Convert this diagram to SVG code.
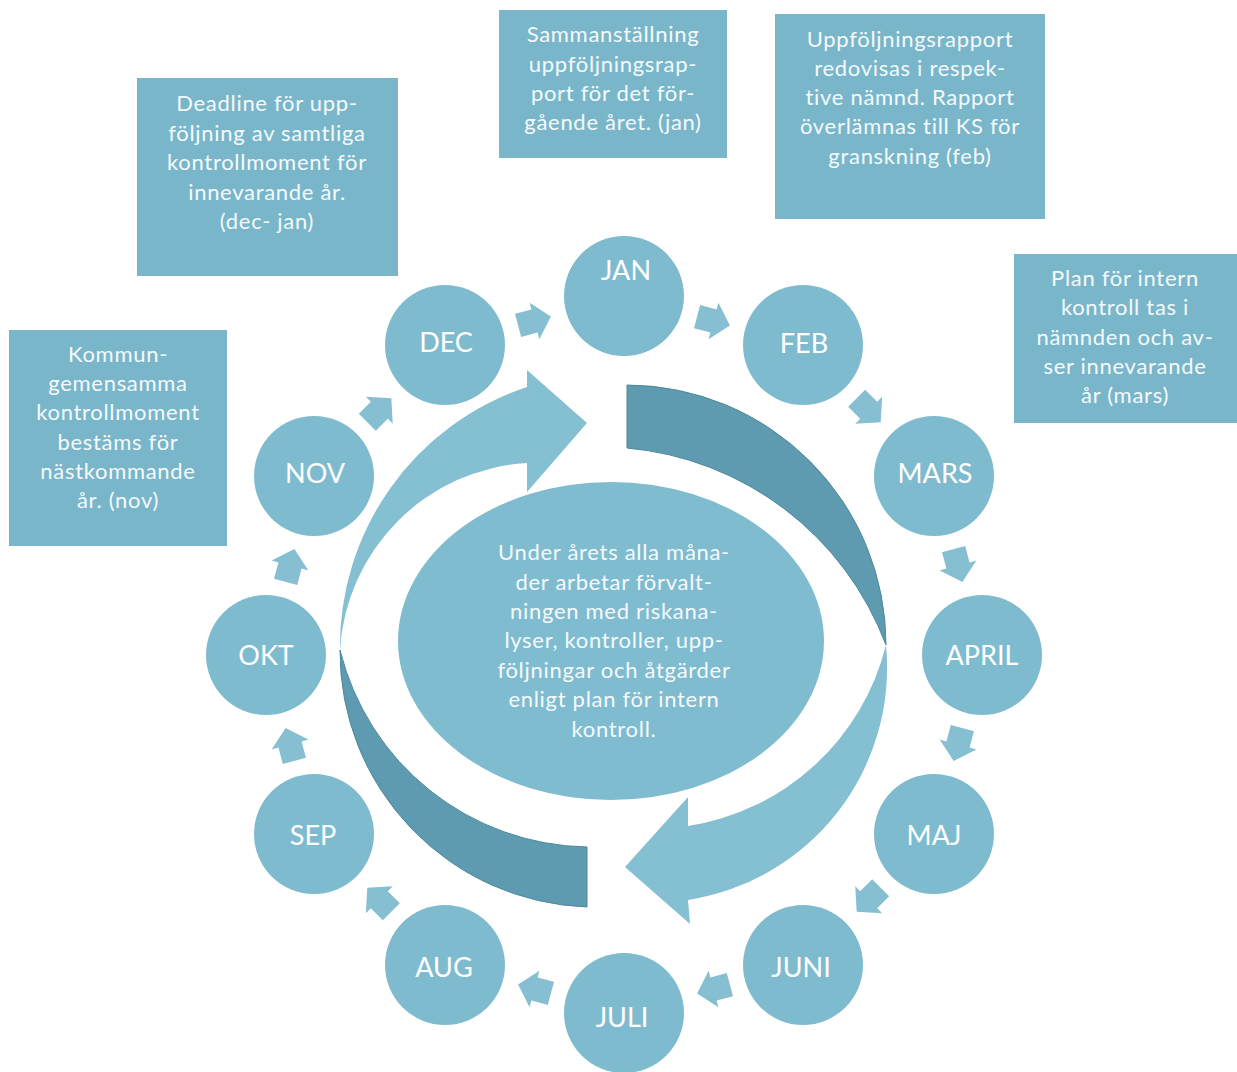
<svg xmlns="http://www.w3.org/2000/svg" width="1237" height="1072" viewBox="0 0 1237 1072">
<style>
.bg{fill:#ffffff}
.box{fill:#7ab6ca}
.circ{fill:#7fbbcf}
.ell{fill:#80bcd0}
.lt{fill:#85bfd2}
.dk{fill:#5e9bb0;stroke:#4c889c;stroke-width:1}
.sa{fill:#86bfd2}
.t{font-family:Lato,"Open Sans","Liberation Sans",sans-serif;font-size:22px;font-weight:400;letter-spacing:0.7px;fill:#f4fafc;text-anchor:middle}
.m{font-family:Lato,"Open Sans","Liberation Sans",sans-serif;font-size:27px;fill:#ffffff;text-anchor:middle}
</style>
<defs>
<polygon id="sarrow" points="-17,-12 0,-12 0,-19 17,0 0,19 0,12 -17,12"/>
</defs>
<rect class="bg" x="0" y="0" width="1237" height="1072"/>

<g id="connectors">
  <path id="arc-left-light" class="lt" d="M 340 650 A 273 273 0 0 1 527 387 L 527 370 L 587 423 L 527 492 L 527 463 A 199 199 0 0 0 340 650 Z"/>
  <path id="arc-left-dark" class="dk" d="M 340 650 A 256 256 0 0 0 587 907 L 587 847 A 259 259 0 0 1 340 650 Z"/>
  <path id="arc-right-dark" class="dk" d="M 627 385 A 260 260 0 0 1 886 645 A 306 306 0 0 0 627 448 Z"/>
  <path id="arc-right-light" class="lt" d="M 886 645 A 235 235 0 0 1 688 900 L 690 924 L 625 867 L 688 797 L 688 826 A 242 242 0 0 0 886 645 Z"/>
  <use href="#sarrow" class="sa" transform="translate(534.5,321) rotate(-15)"/>
  <use href="#sarrow" class="sa" transform="translate(713.5,321) rotate(15)"/>
  <use href="#sarrow" class="sa" transform="translate(868.7,410.3) rotate(45)"/>
  <use href="#sarrow" class="sa" transform="translate(958,565.5) rotate(75)"/>
  <use href="#sarrow" class="sa" transform="translate(958,744.5) rotate(105)"/>
  <use href="#sarrow" class="sa" transform="translate(868.7,899.7) rotate(135)"/>
  <use href="#sarrow" class="sa" transform="translate(713.5,989) rotate(165)"/>
  <use href="#sarrow" class="sa" transform="translate(534.5,989) rotate(195)"/>
  <use href="#sarrow" class="sa" transform="translate(379.3,899.7) rotate(225)"/>
  <use href="#sarrow" class="sa" transform="translate(290,744.5) rotate(255)"/>
  <use href="#sarrow" class="sa" transform="translate(290,565.5) rotate(285)"/>
  <use href="#sarrow" class="sa" transform="translate(379.3,410.3) rotate(315)"/>
</g>

<g id="center">
  <ellipse class="ell" cx="611" cy="641" rx="213" ry="159"/>
  <text class="t" x="614" y="560">Under årets alla måna-</text>
  <text class="t" x="614" y="590">der arbetar förvalt-</text>
  <text class="t" x="614" y="619">ningen med riskana-</text>
  <text class="t" x="614" y="648">lyser, kontroller, upp-</text>
  <text class="t" x="614" y="678">följningar och åtgärder</text>
  <text class="t" x="614" y="707">enligt plan för intern</text>
  <text class="t" x="614" y="737">kontroll.</text>
</g>

<g id="jan"><circle class="circ" cx="624" cy="296" r="60"/><text class="m" x="626" y="280">JAN</text></g>
<g id="feb"><circle class="circ" cx="803" cy="345" r="60"/><text class="m" x="804" y="353">FEB</text></g>
<g id="mars"><circle class="circ" cx="934" cy="476" r="60"/><text class="m" x="935" y="483">MARS</text></g>
<g id="april"><circle class="circ" cx="982" cy="655" r="60"/><text class="m" x="982" y="665">APRIL</text></g>
<g id="maj"><circle class="circ" cx="934" cy="834" r="60"/><text class="m" x="934" y="845">MAJ</text></g>
<g id="juni"><circle class="circ" cx="803" cy="965" r="60"/><text class="m" x="801" y="977">JUNI</text></g>
<g id="juli"><circle class="circ" cx="624" cy="1013" r="60"/><text class="m" x="622" y="1027">JULI</text></g>
<g id="aug"><circle class="circ" cx="445" cy="965" r="60"/><text class="m" x="444" y="977">AUG</text></g>
<g id="sep"><circle class="circ" cx="314" cy="834" r="60"/><text class="m" x="313" y="845">SEP</text></g>
<g id="okt"><circle class="circ" cx="266" cy="655" r="60"/><text class="m" x="266" y="665">OKT</text></g>
<g id="nov"><circle class="circ" cx="314" cy="476" r="60"/><text class="m" x="315" y="483">NOV</text></g>
<g id="dec"><circle class="circ" cx="445" cy="345" r="60"/><text class="m" x="446" y="352">DEC</text></g>

<g id="box-deadline">
  <rect class="box" x="137" y="78" width="261" height="198"/>
  <text class="t" x="267" y="111">Deadline för upp-</text>
  <text class="t" x="267" y="141">följning av samtliga</text>
  <text class="t" x="267" y="170">kontrollmoment för</text>
  <text class="t" x="267" y="200">innevarande år.</text>
  <text class="t" x="267" y="229">(dec- jan)</text>
</g>
<g id="box-sammanstallning">
  <rect class="box" x="499" y="10" width="228" height="148"/>
  <text class="t" x="613" y="42">Sammanställning</text>
  <text class="t" x="613" y="72">uppföljningsrap-</text>
  <text class="t" x="613" y="101">port för det för-</text>
  <text class="t" x="613" y="130">gående året. (jan)</text>
</g>
<g id="box-uppfoljningsrapport">
  <rect class="box" x="775" y="14" width="270" height="205"/>
  <text class="t" x="910" y="47">Uppföljningsrapport</text>
  <text class="t" x="910" y="76">redovisas i respek-</text>
  <text class="t" x="910" y="105">tive nämnd. Rapport</text>
  <text class="t" x="910" y="134">överlämnas till KS för</text>
  <text class="t" x="910" y="164">granskning (feb)</text>
</g>
<g id="box-plan">
  <rect class="box" x="1014" y="254" width="223" height="169"/>
  <text class="t" x="1125" y="286">Plan för intern</text>
  <text class="t" x="1125" y="315">kontroll tas i</text>
  <text class="t" x="1125" y="345">nämnden och av-</text>
  <text class="t" x="1125" y="374">ser innevarande</text>
  <text class="t" x="1125" y="403">år (mars)</text>
</g>
<g id="box-kommun">
  <rect class="box" x="9" y="330" width="218" height="216"/>
  <text class="t" x="118" y="362">Kommun-</text>
  <text class="t" x="118" y="391">gemensamma</text>
  <text class="t" x="118" y="420">kontrollmoment</text>
  <text class="t" x="118" y="450">bestäms för</text>
  <text class="t" x="118" y="479">nästkommande</text>
  <text class="t" x="118" y="508">år. (nov)</text>
</g>
</svg>
